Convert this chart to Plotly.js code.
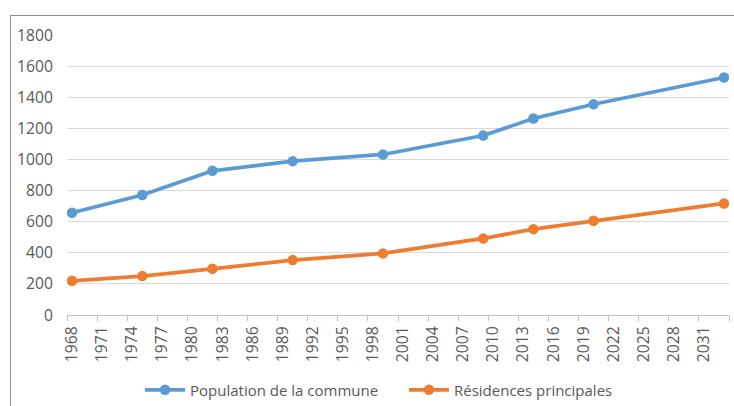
<!DOCTYPE html>
<html><head><meta charset="utf-8">
<script src="https://cdn.plot.ly/plotly-3.0.1.min.js"></script>
<style>
html,body{margin:0;padding:0;background:#fff;}
#wrap{position:relative;width:734px;height:406px;}
#chart{width:734px;height:406px;}
#frame{position:absolute;left:10px;top:15px;width:730px;height:400px;border-left:1px solid #8c8c8c;border-top:1px solid #8c8c8c;pointer-events:none;}
</style>
</head><body>
<div id="wrap"><div id="chart"></div><div id="frame"></div></div>
<script>
const years = [1968, 1975, 1982, 1990, 1999, 2009, 2014, 2020, 2033];
const population = [657, 771, 927, 989, 1032, 1154, 1263, 1355, 1527];
const residences = [220, 250, 297, 353, 396, 492, 552, 606, 717];
const tickYears = [1968,1971,1974,1977,1980,1983,1986,1989,1992,1995,1998,2001,2004,2007,2010,2013,2016,2019,2022,2025,2028,2031];
const seriesNames = ['Population de la commune', 'Résidences principales'];

const font = {family: 'Open Sans, sans-serif', size: 15, color: '#595959'};
const tickFont = {family: 'Open Sans, sans-serif', size: 15.7, color: '#595959'};

const traces = [
  {x: years, y: population, name: seriesNames[0], type: 'scatter', mode: 'lines+markers',
   line: {color: '#5B9BD5', width: 3.75}, marker: {color: '#5B9BD5', size: 10.5}},
  {x: years, y: residences, name: seriesNames[1], type: 'scatter', mode: 'lines+markers',
   line: {color: '#ED7D31', width: 3.75}, marker: {color: '#ED7D31', size: 10.5}}
];

const layout = {
  width: 734, height: 406,
  margin: {l: 67, r: 5, t: 35, b: 91},
  paper_bgcolor: '#fff', plot_bgcolor: '#fff',
  font: font,
  showlegend: true,
  legend: {orientation: 'h', xref: 'container', yref: 'container', x: 140/734, xanchor: 'left',
           y: 16/406, yanchor: 'middle',
           font: font, entrywidth: 209, entrywidthmode: 'pixels', itemwidth: 40},
  xaxis: {range: [1967.5, 2033.5], tickmode: 'array', tickvals: tickYears, ticktext: tickYears.map(String),
          tickangle: -90, ticks: '', showgrid: false, zeroline: false, automargin: false,
          showline: true, linecolor: '#bfbfbf', linewidth: 1, tickfont: tickFont, ticklabelstandoff: 4,
          minor: {tick0: 1967.5, dtick: 3, ticks: 'outside', ticklen: 5, tickcolor: '#bfbfbf', showgrid: false}},
  yaxis: {range: [0, 1800], tickmode: 'linear', tick0: 0, dtick: 200, showgrid: true, automargin: false,
          gridcolor: '#d9d9d9', gridwidth: 1, zeroline: false, showline: false, ticks: '',
          tickfont: tickFont, ticklabelstandoff: 13}
};

Plotly.newPlot('chart', traces, layout, {displayModeBar: false, staticPlot: true});
</script>
</body></html>
